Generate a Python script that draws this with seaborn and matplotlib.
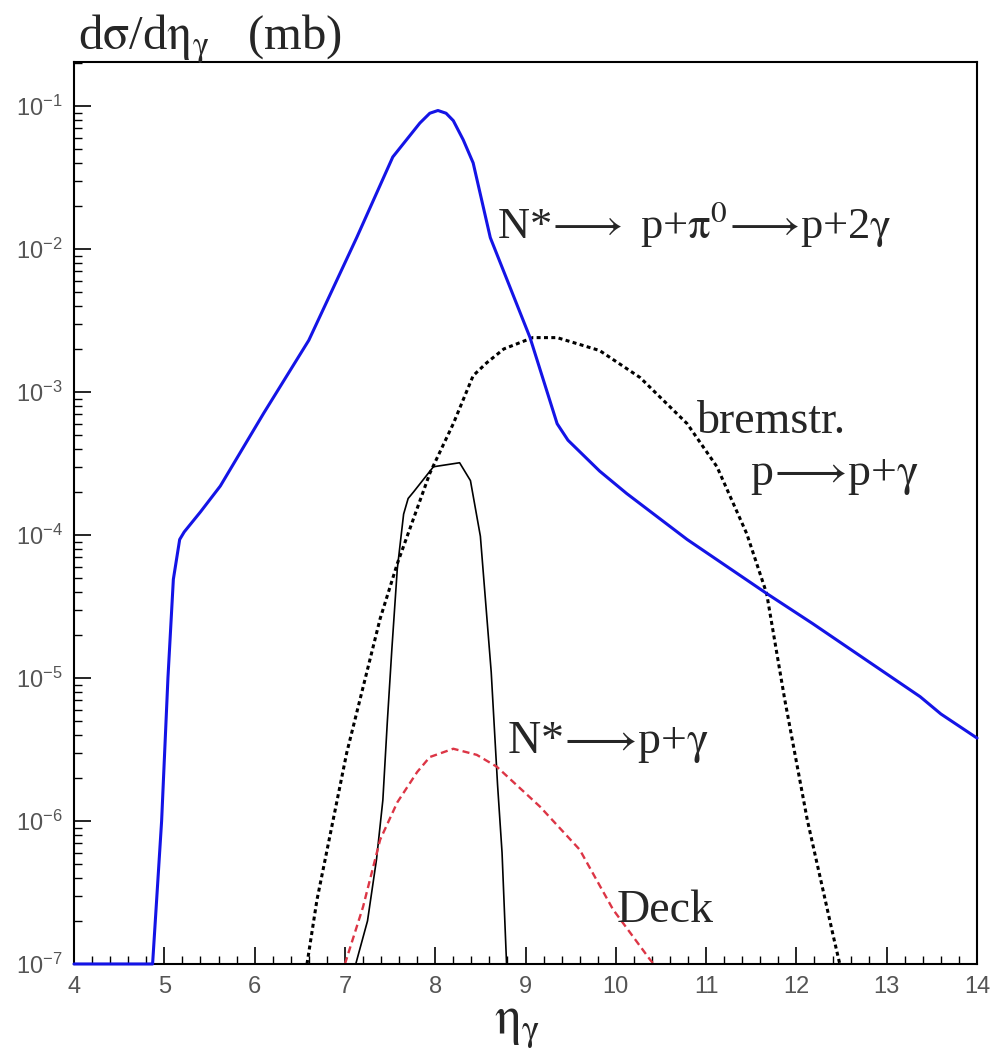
import numpy as np
import pandas as pd
import matplotlib
matplotlib.use("Agg")
import matplotlib.pyplot as plt
import matplotlib.ticker as mticker
import seaborn as sns

# ---- data (eta_gamma, dsigma/deta in mb) ----
pi0_eta = [4.0, 4.87, 4.97, 5.04, 5.10, 5.17, 5.22, 5.40, 5.62, 6.10, 6.60, 7.13,
           7.53, 7.83, 7.94, 8.03, 8.12, 8.20, 8.31, 8.42, 8.61, 9.05, 9.35, 9.47,
           9.82, 10.12, 10.79, 11.67, 12.18, 13.37, 13.60, 14.0]
pi0_val = [1.0e-7, 1.0e-7, 1.0e-6, 1.0e-5, 4.9e-5, 9.3e-5, 1.05e-4, 1.45e-4, 2.2e-4,
           7.1e-4, 2.3e-3, 1.2e-2, 4.4e-2, 7.6e-2, 8.9e-2, 9.3e-2, 8.9e-2, 7.9e-2,
           5.8e-2, 4.0e-2, 1.2e-2, 2.4e-3, 6.0e-4, 4.6e-4, 2.8e-4, 1.95e-4, 9.3e-5,
           3.9e-5, 2.4e-5, 7.4e-6, 5.6e-6, 3.8e-6]

brem_eta = [6.58, 6.69, 7.02, 7.39, 7.58, 7.94, 8.20, 8.42, 8.57, 8.76, 9.08, 9.35,
            9.82, 10.27, 10.79, 11.12, 11.45, 11.67, 11.87, 12.12, 12.41, 12.48]
brem_val = [1.0e-7, 2.8e-7, 3.0e-6, 2.6e-5, 6.3e-5, 2.7e-4, 6.0e-4, 1.3e-3, 1.6e-3,
            2.0e-3, 2.4e-3, 2.4e-3, 1.95e-3, 1.26e-3, 6.0e-4, 3.0e-4, 1.02e-4,
            3.9e-5, 7.1e-6, 1.02e-6, 1.55e-7, 1.0e-7]

nrad_eta = [7.12, 7.25, 7.35, 7.42, 7.47, 7.52, 7.58, 7.65, 7.70, 7.76, 7.98, 8.27,
            8.39, 8.50, 8.62, 8.69, 8.74, 8.79]
nrad_val = [1.0e-7, 2.0e-7, 5.4e-7, 1.4e-6, 5.0e-6, 1.6e-5, 5.8e-5, 1.4e-4, 1.8e-4,
            2.0e-4, 3.0e-4, 3.2e-4, 2.4e-4, 9.8e-5, 1.1e-5, 1.8e-6, 6.0e-7, 1.0e-7]

deck_eta = [7.00, 7.20, 7.39, 7.58, 7.80, 7.94, 8.20, 8.46, 8.68, 9.16, 9.60, 9.97,
            10.38, 10.42]
deck_val = [1.0e-7, 2.5e-7, 7.4e-7, 1.35e-6, 2.2e-6, 2.8e-6, 3.2e-6, 2.9e-6, 2.4e-6,
            1.26e-6, 6.3e-7, 2.4e-7, 1.07e-7, 1.0e-7]

x_ticks = [4, 5, 6, 7, 8, 9, 10, 11, 12, 13, 14]

# ---- style ----
sns.set_style("ticks")
plt.rcParams["font.family"] = ["Liberation Sans", "DejaVu Sans"]
plt.rcParams["mathtext.fontset"] = "stix"
plt.rcParams["mathtext.default"] = "rm"

fig = plt.figure(figsize=(9.91, 10.62), dpi=100)
ax = fig.add_axes([0.0747, 0.0923, 0.9112, 0.8493])
ax.set_yscale("log")

sns.lineplot(x=pi0_eta, y=pi0_val, ax=ax, color="#1414e6", linewidth=2.2,
             estimator=None, sort=False)
ax.lines[-1].set_clip_on(False)
ax.lines[-1].set_zorder(5)
sns.lineplot(x=brem_eta, y=brem_val, ax=ax, color="black", linewidth=2.2,
             linestyle=(0, (1.3, 1.1)), estimator=None, sort=False)
sns.lineplot(x=nrad_eta, y=nrad_val, ax=ax, color="black", linewidth=1.2,
             estimator=None, sort=False)
sns.lineplot(x=deck_eta, y=deck_val, ax=ax, color="#dc3545", linewidth=1.7,
             linestyle=(0, (3, 1.8)), estimator=None, sort=False)

ax.set_xlim(4, 14)
ax.set_ylim(1e-7, 0.203)

ax.set_xticks(x_ticks)
ax.xaxis.set_minor_locator(mticker.MultipleLocator(0.2))
ax.yaxis.set_major_locator(mticker.LogLocator(base=10, numticks=20))
ax.yaxis.set_minor_locator(mticker.LogLocator(base=10, subs=np.arange(2, 10), numticks=20))
ax.yaxis.set_minor_formatter(mticker.NullFormatter())

ax.tick_params(axis="both", which="major", direction="in", length=12, width=1.2,
               color="black", labelsize=17, labelcolor="#555555")
ax.tick_params(axis="both", which="minor", direction="in", length=6, width=1.0,
               color="black")
ax.tick_params(axis="x", which="major", pad=9)
ax.tick_params(axis="y", which="major", pad=8)
ax.tick_params(top=False, right=False, which="both")

for s in ax.spines.values():
    s.set_visible(True)
    s.set_linewidth(1.5)
    s.set_color("black")

ax.set_xlabel("")
ax.set_ylabel("")

serif = ["Liberation Serif", "DejaVu Serif"]
arrow = r"$\!\longrightarrow\!$"
ax.text(8.68, 0.0120, r"N*$\!\longrightarrow$ p+$\pi^{0}$" + arrow + r"p+2$\gamma$",
        fontsize=32, family=serif, va="baseline", ha="left")
ax.text(10.90, 5.2e-4, "bremstr.", fontsize=33, family=serif, va="baseline", ha="left")
ax.text(11.49, 2.24e-4, "p" + arrow + r"p+$\gamma$", fontsize=33, family=serif,
        va="baseline", ha="left")
ax.text(8.80, 3.0e-6, "N*" + arrow + r"p+$\gamma$", fontsize=33, family=serif,
        va="baseline", ha="left")
ax.text(10.01, 1.97e-7, "Deck", fontsize=33, family=serif, va="baseline", ha="left")

fig.text(78 / 991, 1 - 50 / 1062, r"d$\sigma$/d$\eta_{\gamma}$   (mb)", fontsize=35,
         family=serif, va="baseline", ha="left")
fig.text(517 / 991, 1 - 1033 / 1062, r"$\eta_{\gamma}$", fontsize=38,
         family=serif, va="baseline", ha="center")

fig.savefig("out.png", dpi=100)
